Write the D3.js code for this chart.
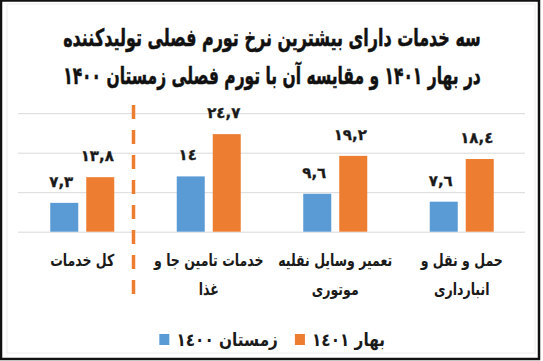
<!DOCTYPE html>
<html>
<head>
<meta charset="utf-8">
<script src="https://cdn.jsdelivr.net/npm/d3@7"></script>
<style>
  html, body { margin: 0; padding: 0; background: #fff; }
  svg { display: block; }
  text { font-family: "DejaVu Sans", sans-serif; font-weight: bold; fill: #1a1a1a; }
</style>
</head>
<body>
<svg id="chart" width="543" height="361"></svg>
<script>
// ---- data ----
const categories = ["حمل و نقل و انبارداری", "تعمیر وسایل نقلیه موتوری", "خدمات تامین جا و غذا", "کل خدمات"];
const categoryLines = [["حمل و نقل و", "انبارداری"], ["تعمیر وسایل نقلیه", "موتوری"], ["خدمات تامین جا و", "غذا"], ["کل خدمات"]];
const winter1400 = [7.6, 9.6, 14, 7.3];
const spring1401 = [18.4, 19.2, 24.7, 13.8];
const seriesNames = ["زمستان ١٤٠٠", "بهار ١٤٠١"];
const yTicks = [0, 10, 20, 30];
const titleLines = ["سه خدمات دارای بیشترین نرخ تورم فصلی تولیدکننده", "در بهار ۱۴۰۱ و مقایسه آن با تورم فصلی زمستان ۱۴۰۰"];

const colors = ["#5b9bd5", "#ed7d31"];
const svg = d3.select("#chart");

// horizontal compression helper (keeps glyph height, narrows width)
function squeeze(sel, cx, s) {
  sel.attr("transform", `translate(${cx},0) scale(${s},1) translate(${-cx},0)`);
}

// frame
svg.append("rect").attr("x", 1).attr("y", 0.5).attr("width", 538).attr("height", 358.5)
  .attr("fill", "#fff").attr("stroke", "#111").attr("stroke-width", 2.5);
svg.append("rect").attr("x", 7).attr("y", 4).attr("width", 528).attr("height", 349)
  .attr("fill", "none").attr("stroke", "#ececec").attr("stroke-width", 1);

// title
const arDigits = s => s.replace(/\d/g, d => String.fromCharCode(0x0660 + +d)).replace(".", ",");
svg.selectAll("text.title").data(titleLines).join("text")
  .attr("class", "title")
  .attr("x", 272).attr("y", (d, i) => 46 + i * 38)
  .attr("text-anchor", "middle")
  .style("font-size", "24px")
  .style("fill", "#111")
  .style("stroke", "#111").style("stroke-width", "0.5px")
  .text(d => d)
  .each(function () {
    const w = this.getComputedTextLength();
    squeeze(d3.select(this), 272, 418 / w);
  });

// scales
const x0 = d3.scaleBand().domain(categories).range([525, 19]).paddingInner(0).paddingOuter(0);
const x1 = d3.scaleBand().domain([0, 1]).range([0, x0.bandwidth()]).paddingInner(0.222).paddingOuter(0.868);
const y = d3.scaleLinear().domain([0, 30]).range([231.7, 113.2]);

// gridlines
const grid = svg.append("g").attr("transform", "translate(18,0)")
  .call(d3.axisLeft(y).tickValues(yTicks).tickSize(-507).tickFormat(""));
grid.select(".domain").remove();
grid.selectAll("line").attr("stroke", "#d9d9d9").attr("stroke-width", 1);

// bars
const series = [winter1400, spring1401];
const groups = svg.append("g").selectAll("g").data(categories).join("g")
  .attr("transform", d => `translate(${x0(d)},0)`);
groups.selectAll("rect").data((d, i) => series.map((s, k) => ({ k, v: s[i] }))).join("rect")
  .attr("x", d => x1(d.k)).attr("width", x1.bandwidth())
  .attr("y", d => y(d.v)).attr("height", d => y(0) - y(d.v))
  .attr("fill", d => colors[d.k]);
groups.selectAll("text.val").data((d, i) => series.map((s, k) => ({ k, v: s[i] }))).join("text")
  .attr("class", "val")
  .attr("x", d => x1(d.k) + x1.bandwidth() / 2 - 3)
  .attr("y", d => y(d.v) - 16)
  .attr("text-anchor", "middle")
  .style("font-size", "15px")
  .style("stroke", "#1a1a1a").style("stroke-width", "0.3px")
  .text(d => arDigits(String(d.v)));

// category labels
const catX = x0.bandwidth() / 2;
groups.selectAll("text.cat").data((d, i) => categoryLines[i]).join("text")
  .attr("class", "cat")
  .attr("x", catX)
  .attr("y", (d, j) => 266 + j * 29)
  .attr("text-anchor", "middle")
  .style("font-size", "16.5px")
  .text(d => d)
  .call(squeeze, catX, 0.76);

// dashed separator
const sepX = x0(categories[2]) - 12;
svg.append("line").attr("x1", sepX).attr("x2", sepX).attr("y1", 105).attr("y2", 297)
  .attr("stroke", colors[1]).attr("stroke-width", 3.5).attr("stroke-dasharray", "14 11");

// legend (right to left)
let lx = 385;
const legend = svg.append("g");
[1, 0].forEach(k => {
  const t = legend.append("text").attr("x", lx).attr("y", 346).attr("text-anchor", "end")
    .style("font-size", "18px").text(seriesNames[k]);
  const s = 0.85;
  const w = t.node().getComputedTextLength() * s;
  squeeze(t, lx, s);
  const sx = lx - w - 7 - 10;
  legend.append("rect").attr("x", sx).attr("y", 334).attr("width", 10).attr("height", 11).attr("fill", colors[k]);
  lx = sx - 17;
});
</script>
</body>
</html>
